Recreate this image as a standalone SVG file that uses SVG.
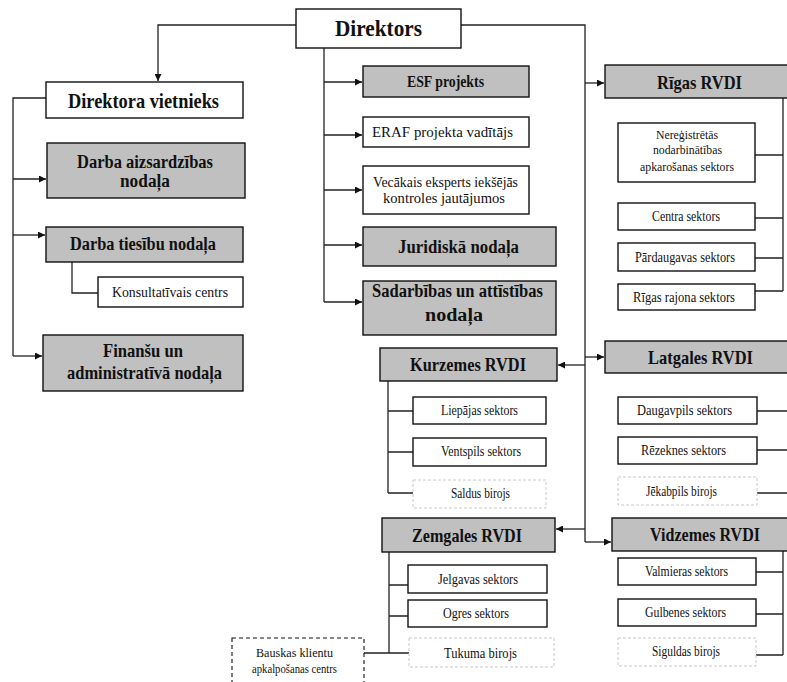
<svg xmlns="http://www.w3.org/2000/svg" width="787" height="682" viewBox="0 0 787 682">
<defs>
<marker id="ar" viewBox="0 0 8 8" refX="8" refY="4" markerWidth="7" markerHeight="7" markerUnits="userSpaceOnUse" orient="auto">
<path d="M0,0 L8,4 L0,8 z" fill="#111"/>
</marker>
<style>
.w{fill:#fff;stroke:#111;stroke-width:1.4}
.g{fill:#c0c0c0;stroke:#111;stroke-width:1.4}
.d{fill:#fff;stroke:#c8c8c8;stroke-width:1;stroke-dasharray:3 2}
.b{fill:#fff;stroke:#111;stroke-width:1.1;stroke-dasharray:4 3}
.c{fill:none;stroke:#222;stroke-width:1.3}
.a{fill:none;stroke:#222;stroke-width:1.3;marker-end:url(#ar)}
text{font-family:"Liberation Serif","Times New Roman",serif;fill:#111;text-anchor:middle}
.h{font-weight:bold}
</style>
</defs>
<rect width="787" height="682" fill="#fff"/>
<g id="connectors">
<path class="a" d="M296,25 H158 V81"/>
<path class="c" d="M46,98 H13 V356"/>
<path class="a" d="M13,179 H46"/>
<path class="a" d="M13,235 H45"/>
<path class="a" d="M13,356 H42"/>
<path class="c" d="M72,262 V293 H98"/>
<path class="c" d="M324,48 V302"/>
<path class="a" d="M324,82 H362"/>
<path class="a" d="M324,135 H362"/>
<path class="a" d="M324,190 H362"/>
<path class="a" d="M324,245 H362"/>
<path class="a" d="M324,302 H362"/>
<path class="c" d="M461,25 H585 V542"/>
<path class="a" d="M585,83 H604"/>
<path class="a" d="M585,357 H604"/>
<path class="a" d="M585,365 H558"/>
<path class="a" d="M585,529 H556"/>
<path class="a" d="M585,542 H611"/>
<path class="c" d="M783,98 V291 M755,155 H783 M755,218 H783 M755,258 H783 M755,291 H783"/>
<path class="c" d="M388,381 V493 M388,411 H413 M388,452 H413 M388,493 H413"/>
<path class="c" d="M757,411 H790 M757,450 H790 M757,493 H790"/>
<path class="c" d="M389,552 V653 M389,585 H408 M389,616 H408 M389,653 H409 M364,653 H389"/>
<path class="c" d="M783,551 V655 M756,572 H783 M756,614 H783 M756,655 H783"/>
</g>
<g id="direktors"><rect class="w" x="296" y="9" width="165" height="39"/><text x="378.5" y="36" font-size="23" class="h" textLength="87" lengthAdjust="spacingAndGlyphs">Direktors</text></g>
<g id="direktora-vietnieks"><rect class="w" x="46" y="82" width="197" height="36"/><text x="143.5" y="108" font-size="21" class="h" textLength="151" lengthAdjust="spacingAndGlyphs">Direktora vietnieks</text></g>
<g id="darba-aizsardzibas"><rect class="g" x="47" y="143" width="198" height="55"/><text x="145" y="168" font-size="18" class="h" textLength="136" lengthAdjust="spacingAndGlyphs">Darba aizsardzības</text><text x="145" y="187" font-size="18" class="h" textLength="50" lengthAdjust="spacingAndGlyphs">nodaļa</text></g>
<g id="darba-tiesibu"><rect class="g" x="46" y="227" width="197" height="35"/><text x="143" y="250" font-size="18" class="h" textLength="146" lengthAdjust="spacingAndGlyphs">Darba tiesību nodaļa</text></g>
<g id="konsultativais"><rect class="w" x="98" y="277" width="145" height="30"/><text x="170" y="297" font-size="15" textLength="116" lengthAdjust="spacingAndGlyphs">Konsultatīvais centrs</text></g>
<g id="finansu"><rect class="g" x="43" y="335" width="200" height="56"/><text x="143" y="357" font-size="19" class="h" textLength="80" lengthAdjust="spacingAndGlyphs">Finanšu un</text><text x="144.5" y="379" font-size="19" class="h" textLength="155" lengthAdjust="spacingAndGlyphs">administratīvā nodaļa</text></g>
<g id="esf"><rect class="g" x="363" y="66" width="166" height="31"/><text x="445.5" y="87" font-size="16" class="h" textLength="77" lengthAdjust="spacingAndGlyphs">ESF projekts</text></g>
<g id="eraf"><rect class="w" x="363" y="117" width="166" height="30"/><text x="442.5" y="137" font-size="15" textLength="141" lengthAdjust="spacingAndGlyphs">ERAF projekta vadītājs</text></g>
<g id="vecakais"><rect class="w" x="363" y="166" width="166" height="48"/><text x="445.5" y="187" font-size="14" textLength="145" lengthAdjust="spacingAndGlyphs">Vecākais eksperts iekšējās</text><text x="444" y="203" font-size="14" textLength="122" lengthAdjust="spacingAndGlyphs">kontroles jautājumos</text></g>
<g id="juridiska"><rect class="g" x="363" y="227" width="193" height="39"/><text x="458.5" y="253" font-size="18" class="h" textLength="121" lengthAdjust="spacingAndGlyphs">Juridiskā nodaļa</text></g>
<g id="sadarbibas"><rect class="g" x="363" y="281" width="193" height="54"/><text x="457.5" y="297" font-size="18" class="h" textLength="171" lengthAdjust="spacingAndGlyphs">Sadarbības un attīstības</text><text x="454" y="321" font-size="18" class="h" textLength="58" lengthAdjust="spacingAndGlyphs">nodaļa</text></g>
<g id="rigas-rvdi"><rect class="g" x="605" y="65" width="190" height="33"/><text x="699.5" y="89" font-size="19" class="h" textLength="85" lengthAdjust="spacingAndGlyphs">Rīgas RVDI</text></g>
<g id="neregistretas"><rect class="w" x="618" y="123" width="137" height="59"/><text x="687" y="139" font-size="13" textLength="62" lengthAdjust="spacingAndGlyphs">Nereģistrētās</text><text x="687.5" y="154" font-size="13" textLength="69" lengthAdjust="spacingAndGlyphs">nodarbinātības</text><text x="687" y="171" font-size="13" textLength="94" lengthAdjust="spacingAndGlyphs">apkarošanas sektors</text></g>
<g id="centra"><rect class="w" x="618" y="203" width="137" height="27"/><text x="686" y="221" font-size="14" textLength="68" lengthAdjust="spacingAndGlyphs">Centra sektors</text></g>
<g id="pardaugavas"><rect class="w" x="618" y="243" width="137" height="28"/><text x="685" y="262" font-size="14" textLength="100" lengthAdjust="spacingAndGlyphs">Pārdaugavas sektors</text></g>
<g id="rigas-rajona"><rect class="w" x="618" y="284" width="137" height="26"/><text x="684" y="302" font-size="14" textLength="102" lengthAdjust="spacingAndGlyphs">Rīgas rajona sektors</text></g>
<g id="latgales-rvdi"><rect class="g" x="605" y="341" width="190" height="32"/><text x="700.5" y="364" font-size="19" class="h" textLength="105" lengthAdjust="spacingAndGlyphs">Latgales RVDI</text></g>
<g id="kurzemes-rvdi"><rect class="g" x="380" y="348" width="177" height="33"/><text x="468" y="371" font-size="19" class="h" textLength="116" lengthAdjust="spacingAndGlyphs">Kurzemes RVDI</text></g>
<g id="liepajas"><rect class="w" x="413" y="397" width="133" height="27"/><text x="479.5" y="415" font-size="14" textLength="77" lengthAdjust="spacingAndGlyphs">Liepājas sektors</text></g>
<g id="ventspils"><rect class="w" x="413" y="438" width="133" height="28"/><text x="481" y="456" font-size="14" textLength="80" lengthAdjust="spacingAndGlyphs">Ventspils sektors</text></g>
<g id="saldus"><rect class="d" x="413" y="480" width="133" height="28"/><text x="480.5" y="498" font-size="14" textLength="59" lengthAdjust="spacingAndGlyphs">Saldus birojs</text></g>
<g id="daugavpils"><rect class="w" x="618" y="397" width="139" height="27"/><text x="684.5" y="415" font-size="14" textLength="95" lengthAdjust="spacingAndGlyphs">Daugavpils sektors</text></g>
<g id="rezeknes"><rect class="w" x="618" y="437" width="139" height="27"/><text x="683.5" y="455" font-size="14" textLength="85" lengthAdjust="spacingAndGlyphs">Rēzeknes sektors</text></g>
<g id="jekabpils"><rect class="d" x="618" y="477" width="139" height="28"/><text x="681.5" y="496" font-size="14" textLength="71" lengthAdjust="spacingAndGlyphs">Jēkabpils birojs</text></g>
<g id="zemgales-rvdi"><rect class="g" x="382" y="518" width="173" height="34"/><text x="467" y="542" font-size="19" class="h" textLength="110" lengthAdjust="spacingAndGlyphs">Zemgales RVDI</text></g>
<g id="vidzemes-rvdi"><rect class="g" x="612" y="518" width="183" height="33"/><text x="705" y="541" font-size="19" class="h" textLength="110" lengthAdjust="spacingAndGlyphs">Vidzemes RVDI</text></g>
<g id="jelgavas"><rect class="w" x="408" y="565" width="139" height="28"/><text x="478" y="584" font-size="14" textLength="80" lengthAdjust="spacingAndGlyphs">Jelgavas sektors</text></g>
<g id="ogres"><rect class="w" x="408" y="600" width="139" height="27"/><text x="476" y="618" font-size="14" textLength="66" lengthAdjust="spacingAndGlyphs">Ogres sektors</text></g>
<g id="tukuma"><rect class="d" x="409" y="638" width="145" height="29"/><text x="480.5" y="658" font-size="14" textLength="73" lengthAdjust="spacingAndGlyphs">Tukuma birojs</text></g>
<g id="bauskas"><rect class="b" x="232" y="638" width="132" height="52"/><text x="294.5" y="657" font-size="13" textLength="77" lengthAdjust="spacingAndGlyphs">Bauskas klientu</text><text x="294.5" y="673" font-size="13" textLength="85" lengthAdjust="spacingAndGlyphs">apkalpošanas centrs</text></g>
<g id="valmieras"><rect class="w" x="618" y="558" width="138" height="27"/><text x="686.5" y="576" font-size="14" textLength="83" lengthAdjust="spacingAndGlyphs">Valmieras sektors</text></g>
<g id="gulbenes"><rect class="w" x="618" y="599" width="138" height="27"/><text x="685.5" y="617" font-size="14" textLength="81" lengthAdjust="spacingAndGlyphs">Gulbenes sektors</text></g>
<g id="siguldas"><rect class="d" x="618" y="638" width="138" height="28"/><text x="686" y="656" font-size="14" textLength="68" lengthAdjust="spacingAndGlyphs">Siguldas birojs</text></g>
</svg>
